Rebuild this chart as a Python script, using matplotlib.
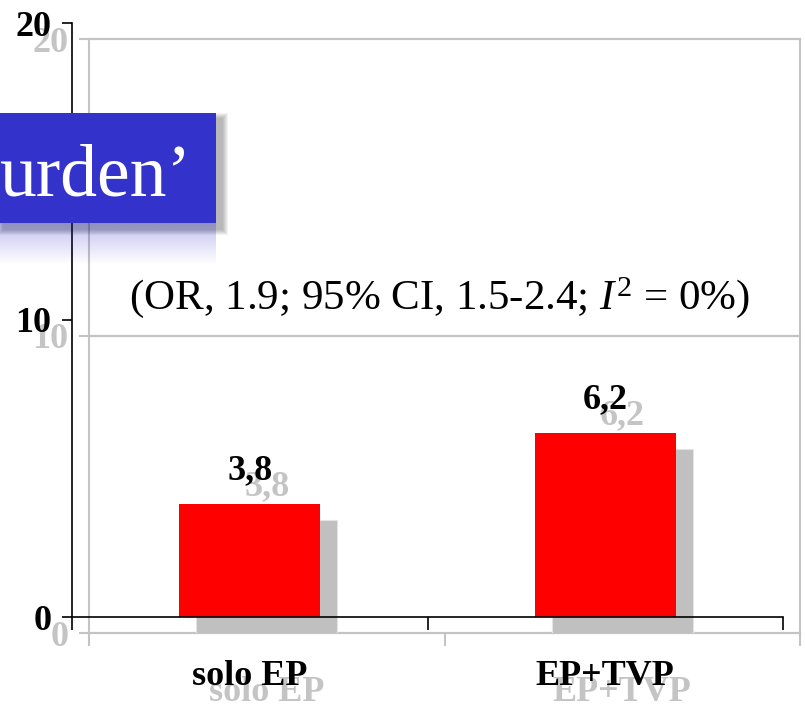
import matplotlib
matplotlib.use("Agg")
import matplotlib.pyplot as plt
from matplotlib.patches import Rectangle
import numpy as np

plt.rcParams["font.family"] = "Liberation Serif"
plt.rcParams["mathtext.fontset"] = "custom"
plt.rcParams["mathtext.rm"] = "Liberation Serif"
plt.rcParams["mathtext.it"] = "Liberation Serif:italic"

categories = ["solo EP", "EP+TVP"]
values = [3.8, 6.2]
yticks = [0, 10, 20]
note = r"(OR, 1.9; 95% CI, 1.5-2.4; $I^{2}$ = 0%)"
banner_text = "urden\u2019"

W, H = 805, 712
fig = plt.figure(figsize=(W / 100, H / 100), dpi=100)
fig.patch.set_facecolor("white")

# plot box in pixels, plus the offset of the drop-shadow copy
x0, y_top, y_zero = 72, 23, 617
pw, ph = 711, y_zero - y_top
dx, dy = 17, 16

xc = np.arange(len(categories)) + 0.5
bw = 0.397
lab_font = dict(family="Liberation Serif", weight="bold", size=26)


def style_axes(ax, color, shadow):
    ax.set_xlim(0, len(categories))
    ax.set_ylim(0, 20)
    ax.patch.set_alpha(0)
    for s in ["top", "right", "left", "bottom"]:
        ax.spines[s].set_visible(False)
    ax.spines["left"].set_visible(True)
    ax.spines["left"].set_color(color)
    ax.spines["left"].set_linewidth(1.5 if shadow else 1.2)
    if shadow:
        ax.spines["right"].set_visible(True)
        ax.spines["right"].set_color(color)
        ax.spines["right"].set_linewidth(1.5)
        for y in yticks:
            ax.axhline(y, color=color, lw=1.6, zorder=0, clip_on=False)
    else:
        ax.spines["bottom"].set_visible(True)
        ax.spines["bottom"].set_color(color)
        ax.spines["bottom"].set_linewidth(1.2)
    ax.set_yticks(yticks)
    ax.set_yticklabels([str(t) for t in yticks], **lab_font, color=color)
    ax.tick_params(axis="y", length=7, width=1.5 if shadow else 1.2,
                   color=color, pad=8)
    ax.set_xticks(np.arange(len(categories) + 1))
    ax.set_xticklabels([])
    ax.tick_params(axis="x", which="major", length=9,
                   width=1.5 if shadow else 1.2, color=color)
    ax.set_xticks(xc, minor=True)
    ax.set_xticklabels(categories, minor=True, **lab_font, color=color)
    ax.tick_params(axis="x", which="minor", length=0, pad=31)


# gray shadow copy of the chart
sh = fig.add_axes([(x0 + dx) / W, (H - y_zero - dy) / H, pw / W, ph / H])
style_axes(sh, "#c4c4c4", True)
sh.bar(xc, values, width=bw, color="#c0c0c0", edgecolor="#e4e4e4",
       linewidth=0.8, zorder=2)
for x, v in zip(xc, values):
    sh.annotate(f"{v:.1f}".replace(".", ","), xy=(x, v), xytext=(0, 12),
                textcoords="offset points", ha="center", va="bottom",
                color="#c4c4c4", **lab_font)

# main chart
ax = fig.add_axes([x0 / W, (H - y_zero) / H, pw / W, ph / H])
style_axes(ax, "black", False)
ax.bar(xc, values, width=bw, color="#ff0000", edgecolor="none", zorder=2)
for x, v in zip(xc, values):
    ax.annotate(f"{v:.1f}".replace(".", ","), xy=(x, v), xytext=(0, 12),
                textcoords="offset points", ha="center", va="bottom",
                color="black", **lab_font)

ax.text(1.035, 10.77, note, ha="center", va="center", fontsize=31,
        family="Liberation Serif", color="black")

# title banner with soft shadow and reflection, in pixel coordinates
bx = fig.add_axes([0, (H - 275) / H, 240 / W, 175 / H])
bx.set_xlim(0, 240)
bx.set_ylim(275, 100)
bx.axis("off")
bx.patch.set_alpha(0)

box_l, box_r, box_t, box_b = -2, 216, 113, 223
for i in range(6):
    g = 6 - i
    bx.add_patch(Rectangle((box_l + 6 - g, box_t + 6 - g),
                           box_r - box_l + 2 * g, box_b - box_t + 2 * g,
                           facecolor="black", edgecolor="none", alpha=0.05))

grad = np.linspace(0.30, 0.0, 60)[:, None] * np.ones((1, 10))
refl = np.zeros((60, 10, 4))
refl[..., 0] = 0.2
refl[..., 1] = 0.2
refl[..., 2] = 0.8
refl[..., 3] = grad
bx.imshow(refl, extent=(box_l, box_r, box_b + 42, box_b), aspect="auto",
          interpolation="bilinear", zorder=1)

bx.add_patch(Rectangle((box_l, box_t), box_r - box_l, box_b - box_t,
                       facecolor="#3333cc", edgecolor="none", zorder=2))
bx.text(-1, 195, banner_text, color="white", fontsize=53,
        family="Liberation Serif", ha="left", va="baseline", zorder=3)

fig.savefig("out.png", dpi=100)
